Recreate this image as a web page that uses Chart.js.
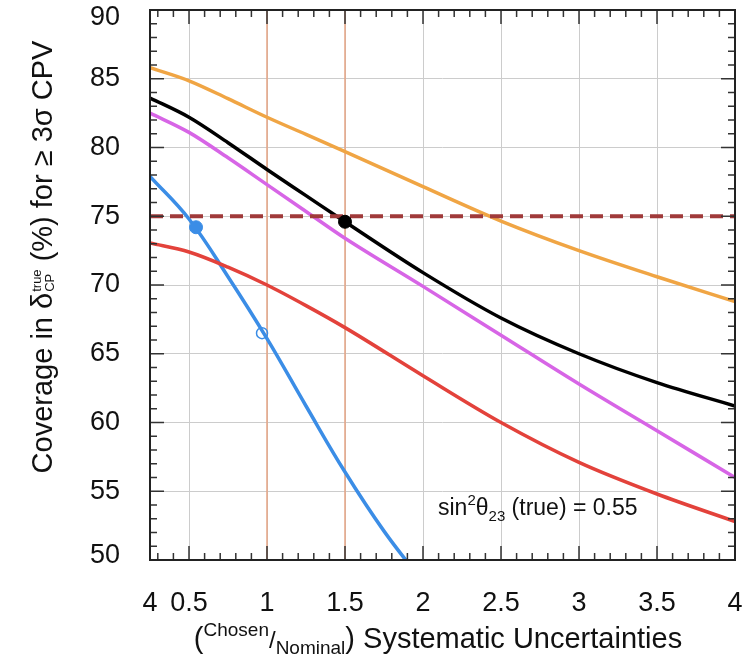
<!DOCTYPE html>
<html>
<head>
<meta charset="utf-8">
<script src="https://cdn.jsdelivr.net/npm/chart.js@4/dist/chart.umd.min.js"></script>
<style>
  html, body { margin: 0; padding: 0; background: #fff; }
  #wrap { width: 754px; height: 661px; }
</style>
</head>
<body>
<div id="wrap"><canvas id="c" width="754" height="661"></canvas></div>
<script>
// Ratio of chosen to nominal systematic uncertainties
const xs = [0.25, 0.5, 0.75, 1, 1.25, 1.5, 2, 2.5, 3, 3.5, 4];
// Coverage (%) of true delta_CP values with >= 3 sigma CPV sensitivity
const orangeY  = [85.8, 84.85, 83.55, 82.2, 80.95, 79.7, 77.15, 74.65, 72.5, 70.6, 68.8];
const blackY   = [83.6, 82.2, 80.35, 78.4, 76.5, 74.6, 70.9, 67.6, 65.0, 62.9, 61.2];
const magentaY = [82.5, 81.1, 79.25, 77.3, 75.35, 73.4, 69.9, 66.35, 62.8, 59.4, 56.0];
const redY     = [73.05, 72.4, 71.3, 70.0, 68.5, 66.9, 63.4, 60.0, 57.1, 54.8, 52.8];
const blueX    = [0.25, 0.5, 0.75, 1, 1.25, 1.5, 1.75, 2];
const blueY    = [77.9, 74.8, 70.6, 66.1, 61.2, 56.4, 52.1, 48.4];

// Reference level and highlighted points
const targetCoverage = 75;
const markerBlueFilled = { x: 0.545, y: 74.2 };
const markerBlueOpen   = { x: 0.968, y: 66.5 };
const markerBlack      = { x: 1.5,  y: 74.6 };
const refLinesX = [1, 1.5];

// Axis ticks
const xTickValues = [0.25, 0.5, 1, 1.5, 2, 2.5, 3, 3.5, 4];
const xTickLabels = ['4', '0.5', '1', '1.5', '2', '2.5', '3', '3.5', '4'];
const yTickValues = [50, 55, 60, 65, 70, 75, 80, 85, 90];

const pts = (xArr, yArr) => xArr.map((x, i) => ({ x: x, y: yArr[i] }));

const FONT = '"Liberation Sans", Arial, Helvetica, sans-serif';

function curve(data, color, smooth) {
  const ds = {
    type: 'line', data: data, borderColor: color, backgroundColor: color,
    borderWidth: 3.5, pointRadius: 0, fill: false, order: 2
  };
  if (smooth) ds.tension = 0.4;
  else ds.cubicInterpolationMode = 'monotone';
  return ds;
}

// Vertical reference lines, inward ticks, frame, y labels and titles
const decorations = {
  id: 'decorations',
  beforeDatasetsDraw(chart) {
    const ctx = chart.ctx, a = chart.chartArea;
    const sx = chart.scales.x;
    ctx.save();
    ctx.strokeStyle = '#e6a585';
    ctx.lineWidth = 1.5;
    refLinesX.forEach(v => {
      const px = sx.getPixelForValue(v);
      ctx.beginPath(); ctx.moveTo(px, a.top); ctx.lineTo(px, a.bottom); ctx.stroke();
    });
    ctx.restore();
  },
  afterDraw(chart) {
    const ctx = chart.ctx, a = chart.chartArea;
    const sx = chart.scales.x, sy = chart.scales.y;
    ctx.save();
    ctx.strokeStyle = '#333';
    ctx.lineWidth = 1.5;
    // x ticks every 0.1, major every 0.5
    for (let i = 3; i <= 40; i++) {
      const v = i / 10;
      const px = sx.getPixelForValue(v);
      const len = (i % 5 === 0) ? 14 : 7;
      ctx.beginPath();
      ctx.moveTo(px, a.bottom); ctx.lineTo(px, a.bottom - len);
      ctx.moveTo(px, a.top); ctx.lineTo(px, a.top + len);
      ctx.stroke();
    }
    // y ticks every 1, major every 5
    for (let v = 50; v <= 90; v++) {
      const py = sy.getPixelForValue(v);
      const len = (v % 5 === 0) ? 14 : 7;
      ctx.beginPath();
      ctx.moveTo(a.left, py); ctx.lineTo(a.left + len, py);
      ctx.moveTo(a.right, py); ctx.lineTo(a.right - len, py);
      ctx.stroke();
    }
    ctx.strokeStyle = '#222';
    ctx.lineWidth = 2;
    ctx.strokeRect(a.left, a.top, a.right - a.left, a.bottom - a.top);
    ctx.restore();

    // y tick labels, kept inside the canvas at the ends
    ctx.save();
    ctx.fillStyle = '#111';
    ctx.font = '27px ' + FONT;
    ctx.textAlign = 'right';
    ctx.textBaseline = 'middle';
    yTickValues.forEach(v => {
      const py = Math.min(Math.max(sy.getPixelForValue(v), 18), 556);
      ctx.fillText(String(v), a.left - 30, py);
    });
    ctx.restore();

    // Annotation inside the plot
    ctx.save();
    ctx.fillStyle = '#111';
    drawRuns(ctx, 438, 515, [
      { t: 'sin', s: 23 },
      { t: '2', s: 15, dy: -10 },
      { t: '\u03b8', s: 23 },
      { t: '23', s: 15, dy: 6 },
      { t: ' (true) = 0.55', s: 23 }
    ]);
    ctx.restore();

    // x-axis title
    ctx.save();
    ctx.fillStyle = '#111';
    const xRuns = [
      { t: '(', s: 29 },
      { t: 'Chosen', s: 19, dy: -12 },
      { t: '/', s: 24 },
      { t: 'Nominal', s: 19, dy: 6 },
      { t: ')', s: 29 },
      { t: ' Systematic Uncertainties', s: 29 }
    ];
    const wx = runsWidth(ctx, xRuns);
    drawRuns(ctx, 438 - wx / 2, 648, xRuns);
    ctx.restore();

    // y-axis title (rotated)
    ctx.save();
    ctx.fillStyle = '#111';
    ctx.translate(52, 257);
    ctx.rotate(-Math.PI / 2);
    const yRuns = [
      { t: 'Coverage in \u03b4', s: 29 },
      { stack: ['true', 'CP'], s: 13 },
      { t: ' (%) for \u2265 3\u03c3 CPV', s: 29 }
    ];
    const wy = runsWidth(ctx, yRuns);
    drawRuns(ctx, -wy / 2, 0, yRuns);
    ctx.restore();
  }
};

function runsWidth(ctx, runs) {
  let w = 0;
  runs.forEach(r => {
    ctx.font = r.s + 'px ' + FONT;
    if (r.stack) w += Math.max(...r.stack.map(t => ctx.measureText(t).width)) + 1;
    else w += ctx.measureText(r.t).width;
  });
  return w;
}

function drawRuns(ctx, x, y, runs) {
  ctx.textAlign = 'left';
  ctx.textBaseline = 'alphabetic';
  runs.forEach(r => {
    ctx.font = r.s + 'px ' + FONT;
    if (r.stack) {
      const w = Math.max(...r.stack.map(t => ctx.measureText(t).width));
      ctx.fillText(r.stack[0], x + 1, y - 11);
      ctx.fillText(r.stack[1], x + 1, y + 2);
      x += w + 1;
    } else {
      ctx.fillText(r.t, x, y + (r.dy || 0));
      x += ctx.measureText(r.t).width;
    }
  });
}

new Chart(document.getElementById('c'), {
  type: 'line',
  data: {
    datasets: [
      curve(pts(xs, orangeY), '#f0a544'),
      curve(pts(xs, blackY), '#000000'),
      curve(pts(xs, magentaY), '#d765e6'),
      curve(pts(xs, redY), '#e3423b'),
      curve(pts(blueX, blueY), '#3b8de6', true),
      {
        type: 'line',
        data: [{ x: 0.25, y: targetCoverage }, { x: 4, y: targetCoverage }],
        borderColor: '#a03a3a', borderWidth: 4, borderDash: [13, 7],
        pointRadius: 0, fill: false, order: 1
      },
      {
        type: 'scatter',
        data: [markerBlueFilled],
        backgroundColor: '#3b8de6', borderColor: '#3b8de6',
        pointRadius: 6.5, order: 0
      },
      {
        type: 'scatter',
        data: [markerBlueOpen],
        backgroundColor: 'rgba(255,255,255,0)', borderColor: '#3b8de6',
        borderWidth: 1.5, pointRadius: 5.5, order: 0
      },
      {
        type: 'scatter',
        data: [markerBlack],
        backgroundColor: '#000', borderColor: '#000',
        pointRadius: 6.5, order: 0
      }
    ]
  },
  options: {
    responsive: false,
    animation: false,
    layout: { padding: { top: 10, right: 19, left: 0, bottom: 0 } },
    plugins: { legend: { display: false }, tooltip: { enabled: false } },
    scales: {
      x: {
        type: 'linear', min: 0.25, max: 4,
        afterBuildTicks: s => { s.ticks = xTickValues.map(v => ({ value: v })); },
        afterFit: s => { s.height = 101; s.paddingLeft = 0; s.paddingRight = 0; },
        grid: { color: '#cccccc', lineWidth: 1, drawTicks: false },
        border: { display: false },
        ticks: {
          autoSkip: false, maxRotation: 0, padding: 27,
          color: '#111', font: { family: FONT, size: 27 },
          callback: (v) => { const i = xTickValues.indexOf(v); return i >= 0 ? xTickLabels[i] : ''; }
        }
      },
      y: {
        type: 'linear', min: 50, max: 90,
        afterBuildTicks: s => { s.ticks = yTickValues.map(v => ({ value: v })); },
        afterFit: s => { s.width = 150; s.paddingTop = 0; s.paddingBottom = 0; },
        grid: { color: '#cccccc', lineWidth: 1, drawTicks: false },
        border: { display: false },
        ticks: { display: false }
      }
    }
  },
  plugins: [decorations]
});
</script>
</body>
</html>
